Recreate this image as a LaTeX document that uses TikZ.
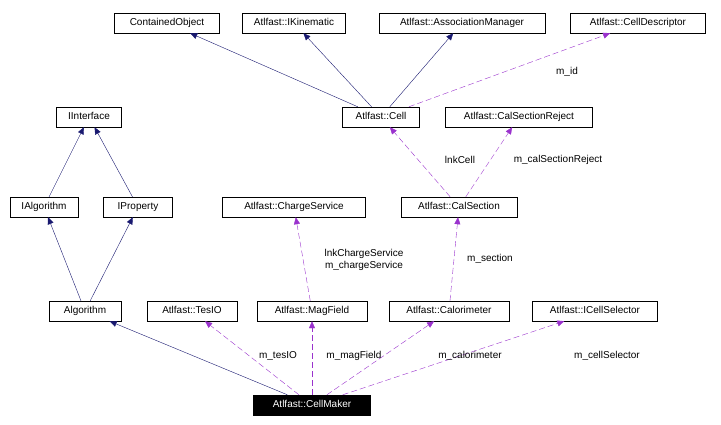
\documentclass[tikz,border=0pt]{standalone}
\usepackage{fontspec}
\setmainfont{Liberation Sans}
\usetikzlibrary{arrows.meta}
\definecolor{inh}{HTML}{191970}
\definecolor{use}{HTML}{9A32CD}
\tikzset{
  cls/.style={draw, rectangle, inner sep=0pt, minimum height=20pt, text height=7.5pt, text depth=2pt, font=\fontsize{10}{12}\selectfont},
  inherit/.style={inh, -{Triangle[length=7pt,width=6pt]}},
  uses/.style={use, dashed, dash pattern=on 6pt off 3pt, -{Triangle[length=7pt,width=6pt]}},
  lbl/.style={font=\fontsize{10}{12}\selectfont, align=center, inner sep=1pt}
}
\begin{document}
\begin{tikzpicture}[x=1pt,y=-1pt]
\useasboundingbox (0,0) rectangle (721,425);
% Top row
\node[cls, minimum width=105pt] (contained) at (167,23) {ContainedObject};
\node[cls, minimum width=103pt] (ikin) at (294,23) {Atlfast::IKinematic};
\node[cls, minimum width=166pt] (assoc) at (462,23) {Atlfast::AssociationManager};
\node[cls, minimum width=135pt] (celldesc) at (638,23) {Atlfast::CellDescriptor};
% Second row
\node[cls, minimum width=65pt] (iinterface) at (89,117) {IInterface};
\node[cls, minimum width=77pt] (cell) at (381,117) {Atlfast::Cell};
\node[cls, minimum width=147pt] (reject) at (519,117) {Atlfast::CalSectionReject};
% Third row
\node[cls, minimum width=68pt] (ialg) at (44,207) {IAlgorithm};
\node[cls, minimum width=69pt] (iprop) at (138,207) {IProperty};
\node[cls, minimum width=143pt] (charge) at (294,207) {Atlfast::ChargeService};
\node[cls, minimum width=116pt] (calsection) at (459,207) {Atlfast::CalSection};
% Fourth row
\node[cls, minimum width=72pt] (alg) at (85,311) {Algorithm};
\node[cls, minimum width=90pt] (tesio) at (192,311) {Atlfast::TesIO};
\node[cls, minimum width=110pt] (magfield) at (312,311) {Atlfast::MagField};
\node[cls, minimum width=120pt] (calo) at (449,311) {Atlfast::Calorimeter};
\node[cls, minimum width=125pt] (selector) at (595,311) {Atlfast::ICellSelector};
% The class itself
\node[cls, minimum width=117pt, fill=black, text=white] (maker) at (312,405) {Atlfast::CellMaker};
% Inheritance
\draw[inherit] (cell) -- (contained);
\draw[inherit] (cell) -- (ikin);
\draw[inherit] (cell) -- (assoc);
\draw[inherit] (ialg) -- (iinterface);
\draw[inherit] (iprop) -- (iinterface);
\draw[inherit] (alg) -- (ialg);
\draw[inherit] (alg) -- (iprop);
\draw[inherit] (maker) -- (alg);
% Usage
\draw[uses] (cell) -- (celldesc);
\draw[uses] (calsection) -- (cell);
\draw[uses] (calsection) -- (reject);
\draw[uses] (magfield) -- (charge);
\draw[uses] (calo) -- (calsection);
\draw[uses] (maker) -- (tesio);
\draw[uses] (maker) -- (magfield);
\draw[uses] (maker) -- (calo);
\draw[uses] (maker) -- (selector);
% Labels
\node[lbl] (lid) at (567,72) {m\_id};
\node[lbl] (llnk) at (460,160) {lnkCell};
\node[lbl] (lrej) at (558,160) {m\_calSectionReject};
\node[lbl] (lcharge) at (364,260) {lnkChargeService\\m\_chargeService};
\node[lbl] (lsec) at (490,259) {m\_section};
\node[lbl] (ltes) at (278,356) {m\_tesIO};
\node[lbl] (lmag) at (354,356) {m\_magField};
\node[lbl] (lcalo) at (470,356) {m\_calorimeter};
\node[lbl] (lsel) at (607,356) {m\_cellSelector};
\end{tikzpicture}
\end{document}
